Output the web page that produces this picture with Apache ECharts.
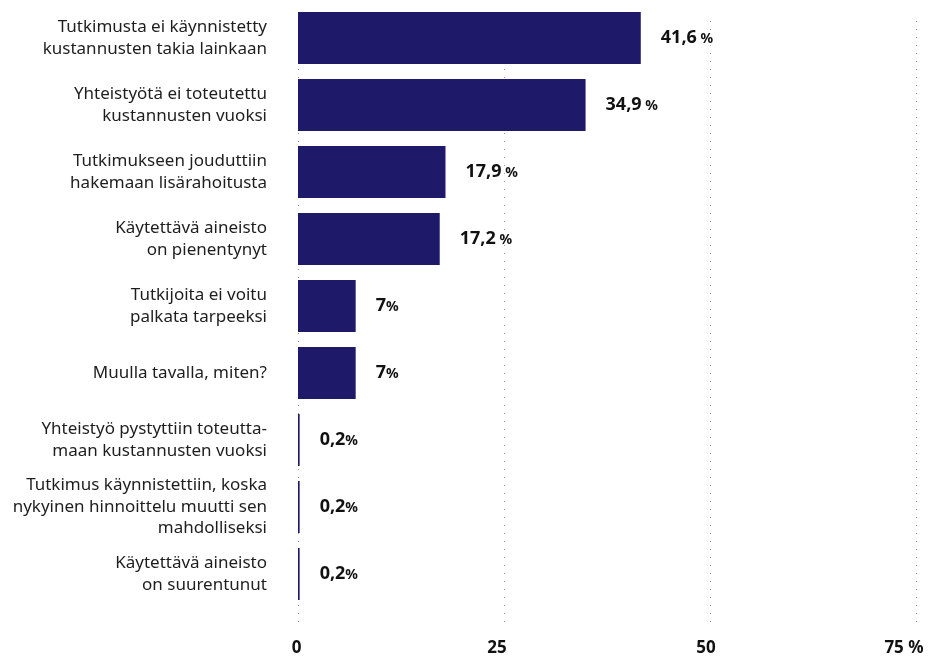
<!DOCTYPE html>
<html><head><meta charset="utf-8">
<script src="https://cdn.jsdelivr.net/npm/echarts@6/dist/echarts.min.js"></script>
<style>html,body{margin:0;padding:0;background:#fff}#c{width:932px;height:657px}</style>
</head><body><div id="c"></div>
<script>
const categories = [
  "Tutkimusta ei käynnistetty\nkustannusten takia lainkaan",
  "Yhteistyötä ei toteutettu\nkustannusten vuoksi",
  "Tutkimukseen jouduttiin\nhakemaan lisärahoitusta",
  "Käytettävä aineisto\non pienentynyt",
  "Tutkijoita ei voitu\npalkata tarpeeksi",
  "Muulla tavalla, miten?",
  "Yhteistyö pystyttiin toteutta-\nmaan kustannusten vuoksi",
  "Tutkimus käynnistettiin, koska\nnykyinen hinnoittelu muutti sen\nmahdolliseksi",
  "Käytettävä aineisto\non suurentunut"
];
const values = [41.6, 34.9, 17.9, 17.2, 7, 7, 0.2, 0.2, 0.2];
const tickValues = [0, 25, 50, 75];
const tickLabels = ["0", "25", "50", "75 %"];

const FONT = "'Noto Sans', Roboto, sans-serif";
const tickStyle = ['t0', 't1', 't2', 't3'];
const chart = echarts.init(document.getElementById('c'), null, {renderer: 'canvas'});
const tickBase = {fontFamily: FONT, fontSize: 17, fontWeight: 'bold', color: '#111'};
chart.setOption({
  animation: false,
  grid: [
    {left: 298, right: 16, top: 4.5, height: 603},
    {left: 298, right: 16, top: 21, bottom: 32}
  ],
  xAxis: [
    {gridIndex: 0, type: 'value', min: 0, max: 75, interval: 25,
     axisLine: {show: false}, axisTick: {show: false}, axisLabel: {show: false}, splitLine: {show: false}},
    {gridIndex: 1, type: 'value', min: 0, max: 75, interval: 25,
     axisLine: {show: false}, axisTick: {show: false},
     splitLine: {show: true, lineStyle: {type: [1, 7], color: '#999', width: 1}},
     axisLabel: {margin: 17, fontFamily: FONT, fontSize: 17, fontWeight: 'bold', color: '#111',
       formatter: v => { const i = tickValues.indexOf(v); return i >= 0 ? '{' + tickStyle[i] + '|' + tickLabels[i] + '}' : ''; },
       rich: {
         t0: Object.assign({padding: [0, 3, 0, 0]}, tickBase),
         t1: Object.assign({padding: [0, 14, 0, 0]}, tickBase),
         t2: Object.assign({padding: [0, 8, 0, 0]}, tickBase),
         t3: Object.assign({padding: [0, 24, 0, 0]}, tickBase)
       }}}
  ],
  yAxis: [
    {gridIndex: 0, type: 'category', data: categories, inverse: true,
     axisLine: {show: false}, axisTick: {show: false},
     axisLabel: {margin: 31, fontFamily: FONT, fontSize: 17, color: '#1e1e1e', lineHeight: 21.5, align: 'right'}},
    {gridIndex: 1, type: 'category', data: [], show: false}
  ],
  series: [{
    type: 'bar', xAxisIndex: 0, yAxisIndex: 0, data: values, barWidth: 52,
    itemStyle: {color: '#1e1a69'},
    label: {show: true, position: 'right', distance: 20,
      formatter: p => {
        const s = String(p.value).replace('.', ',');
        return '{v|' + s + '}{p|' + (p.value >= 10 ? ' %' : '%') + '}';
      },
      rich: {
        v: {fontFamily: FONT, fontSize: 18, fontWeight: 'bold', color: '#111'},
        p: {fontFamily: FONT, fontSize: 14, fontWeight: 'bold', color: '#111', padding: [3, 0, 0, 0]}
      }}
  }]
});
</script></body></html>
